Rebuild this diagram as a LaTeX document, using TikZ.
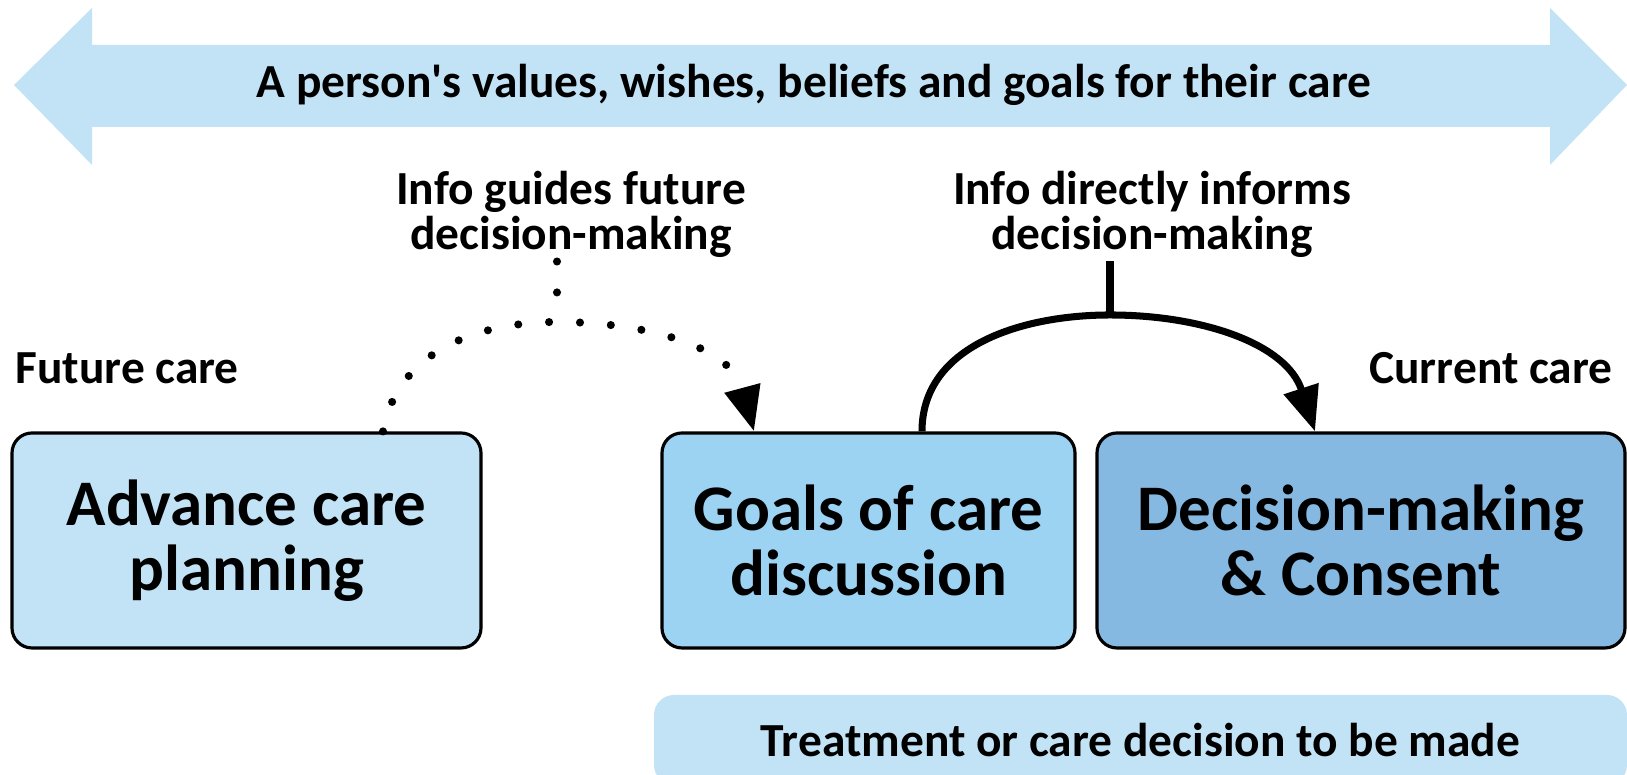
\documentclass[tikz,border=0pt]{standalone}
\usepackage{fontspec}
\setmainfont{Carlito}
\usetikzlibrary{arrows.meta}
\definecolor{azzurro}{HTML}{C2E3F5}
\definecolor{azzurromedio}{HTML}{9CD2F2}
\definecolor{azzurroscuro}{HTML}{85B9E1}

\begin{document}
\begin{tikzpicture}[>={Triangle[length=12.8pt,width=10pt]}, line width=2pt,
  box/.style={draw=black, line width=0.9pt, rounded corners=0.2cm, minimum height=2.15cm,
    align=center, font=\fontsize{18.5}{18.5}\selectfont\bfseries},
  etichetta/.style={align=center, inner sep=0pt, font=\fontsize{13.5}{13}\selectfont\bfseries},
  puntini/.style={line width=2.3pt, line cap=round, dash pattern=on 0pt off 8.8pt}]

\useasboundingbox (0,0) rectangle (16.27,7.75);

% Freccia doppia in alto
\fill[azzurro] (0.14,6.90) -- (0.92,7.67) -- (0.92,7.30) -- (15.50,7.30) -- (15.50,7.67)
  -- (16.27,6.90) -- (15.50,6.10) -- (15.50,6.48) -- (0.92,6.48) -- (0.92,6.10) -- cycle;
\node[etichetta] (valori) at (8.14,6.90) {A person\textquotesingle s values, wishes, beliefs and goals for their care};

% Riquadri
\node[box, fill=azzurro, minimum width=4.69cm] (acp) at (2.465,2.345) {Advance care\\planning};
\node[box, fill=azzurromedio, minimum width=4.13cm] (goc) at (8.685,2.345) {Goals of care\\discussion};
\node[box, fill=azzurroscuro, minimum width=5.28cm] (dmc) at (13.61,2.345) {Decision-making\\\& Consent};
\node[fill=azzurro, rounded corners=0.2cm, minimum width=9.73cm, minimum height=0.9cm,
  font=\fontsize{13.5}{13}\selectfont\bfseries] (tcd) at (11.405,0.35) {Treatment or care decision to be made};

% Etichette
\node[etichetta, anchor=west] (futura) at (0.12,4.07) {Future care};
\node[etichetta, anchor=east] (attuale) at (16.16,4.07) {Current care};
\node[etichetta] (guida) at (5.71,5.605) {Info guides future\\decision-making};
\node[etichetta] (informa) at (11.52,5.605) {Info directly informs\\decision-making};

% Punti di raccordo
\coordinate (pA) at (5.57,4.53);
\coordinate (pB) at (11.10,4.60);

% Freccia a puntini
\draw[puntini] (guida.south -| pA) -- (pA);
\draw[puntini, ->] ([xshift=1.365cm]acp.north) to[out=80, in=180] (pA)
  to[out=0, in=105] ([xshift=-1.145cm]goc.north);

% Freccia piena
\draw (informa.south -| pB) -- (pB);
\draw[->] ([xshift=0.535cm]goc.north) to[out=90, in=180] (pB)
  to[out=0, in=108] ([xshift=-0.46cm]dmc.north);

\end{tikzpicture}
\end{document}
